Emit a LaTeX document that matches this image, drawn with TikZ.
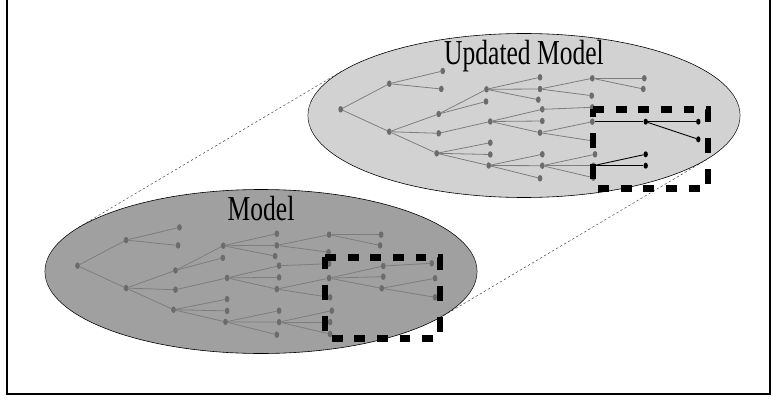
\documentclass[tikz,border=0pt]{standalone}
\usepackage{fontspec}
\setmainfont{Liberation Serif}
\usetikzlibrary{shapes}
\definecolor{oldfill}{RGB}{160,160,160}
\definecolor{newfill}{RGB}{210,210,210}
\definecolor{leafgray}{RGB}{108,108,108}
\definecolor{branchgray}{RGB}{125,125,125}
\tikzset{model/.style={draw, ellipse, minimum width=592pt, minimum height=164pt, line width=0.6pt}}
\tikzset{title/.style={font=\fontsize{35}{40}\selectfont, inner sep=0pt, anchor=base}}
\tikzset{leaf/.style={circle, fill=leafgray, inner sep=0pt, minimum size=6.5pt}}
\tikzset{newleaf/.style={leaf, fill=black, minimum size=6pt}}
\tikzset{branch/.style={draw=branchgray, line width=0.8pt}}
\tikzset{newbranch/.style={draw=black, line width=0.9pt}}
\tikzset{cutbox/.style={draw, line width=7pt, dash pattern=on 15pt off 16pt}}
\tikzset{zoomline/.style={draw=black!75, line width=0.5pt, dash pattern=on 3pt off 3pt}}

% tree shared by both models, node names prefixed by #1
\newcommand{\basetree}[1]{%
\node[leaf] (#1R) at (0,0) {};
\foreach \n/\x/\y/\p in {A/48.6/-25.6/R, B/48.6/22.4/R,
  A1/102/-38.3/A, A2/100.6/-20.3/A, B1/98/4.7/B, B2/98/24/B, B3/96/44/B,
  C1/145.8/-20/B1, C2/145.3/-7.8/B1, C3/149.6/12.2/B2, C4/149.6/33.4/B3, C5/149.6/45.2/B3, C6/148/56.2/B3,
  D1/199.3/-32/C1, D2/199.3/-20.3/C1, D3/197.6/-9.6/C1, D4/201.6/0/C3, D5/201.6/11.7/C3, D6/199.3/23.4/C3,
  D7/201.6/45/C6, D8/201.6/56.4/C6, D9/199.3/69/C6,
  E1/251.6/-31/D2, E2/251/-13.6/D2, E3/251.6/-2/D4, E4/251.6/12.4/D6, E5/252.6/31.7/D6,
  E6/254.3/45/D8, E7/252.6/56.4/D8, E8/252.6/68.4/D8,
  F1/303.6/-31/E1, F2/302.6/-20.3/E1}{
  \node[leaf] (#1\n) at (\x,\y) {};
  \draw[branch] (#1\p) -- (#1\n);
}%
}

\begin{document}
\begin{tikzpicture}[x=1pt,y=-1pt]
\useasboundingbox (0,0) rectangle (771,401);

%frame
\draw[line width=2pt] (6.5,0) -- (6.5,394) -- (770,394) -- (770,0);

\begin{scope}[x=1.36986pt, transform canvas={xscale=0.73}]

%zoom lines
\coordinate (modelc) at (261,271.5);
\coordinate (updatedc) at (524,115.5);
\node[model, draw=none] (model) at (modelc) {};
\node[model, draw=none] (updated) at (updatedc) {};
\path[zoomline] (model.170) -- (updated.170);
\path[zoomline] (model.-10) -- (updated.-10);

%model
\node[model, fill=oldfill] (modelbg) at (modelc) {};
\node[title] (modeltitle) at ([yshift=51.5pt]modelbg.center) {Model};
\begin{scope}[shift={(77.5,265.7)}]
\basetree{m}
\node[leaf] (mG1) at (305.8,0.3) {};
\node[leaf] (mG2) at (305.8,11) {};
\node[leaf] (mG3) at (304.2,22.6) {};
\node[leaf] (mH1) at (354.2,-2.4) {};
\node[leaf] (mH2) at (357.5,12.6) {};
\node[leaf] (mH3) at (357.5,31.6) {};
\draw[branch] (mE4) -- (mG1);
\draw[branch] (mE4) -- (mG2);
\draw[branch] (mE4) -- (mG3);
\draw[branch] (mG1) -- (mH1);
\draw[branch] (mG3) -- (mH2);
\draw[branch] (mG3) -- (mH3);
\end{scope}
\draw[cutbox] (325,257.3) -- (440,257.3) -- (440,338.3) -- (325,338.3) -- cycle;

%updated model
\node[model, fill=newfill] (updatedbg) at (updatedc) {};
\node[title] (updatedtitle) at ([yshift=50.5pt]updatedbg.center) {Updated Model};
\begin{scope}[shift={(340.7,109.3)}]
\basetree{u}
\node[newleaf] (uG1) at (305,12.4) {};
\node[newleaf] (uH1) at (357.6,12.4) {};
\node[newleaf] (uH2) at (357.6,30) {};
\node[newleaf] (uG2) at (305,45) {};
\node[newleaf] (uG3) at (305,56.4) {};
\draw[newbranch] (uE4) -- (uG1);
\draw[newbranch] (uG1) -- (uH1);
\draw[newbranch] (uG1) -- (uH2);
\draw[newbranch] (uE7) -- (uG2);
\draw[newbranch] (uE7) -- (uG3);
\end{scope}
\draw[cutbox] (593,109.3) -- (708,109.3) -- (708,188.3) -- (593,188.3) -- cycle;

\end{scope}

\end{tikzpicture}
\end{document}
